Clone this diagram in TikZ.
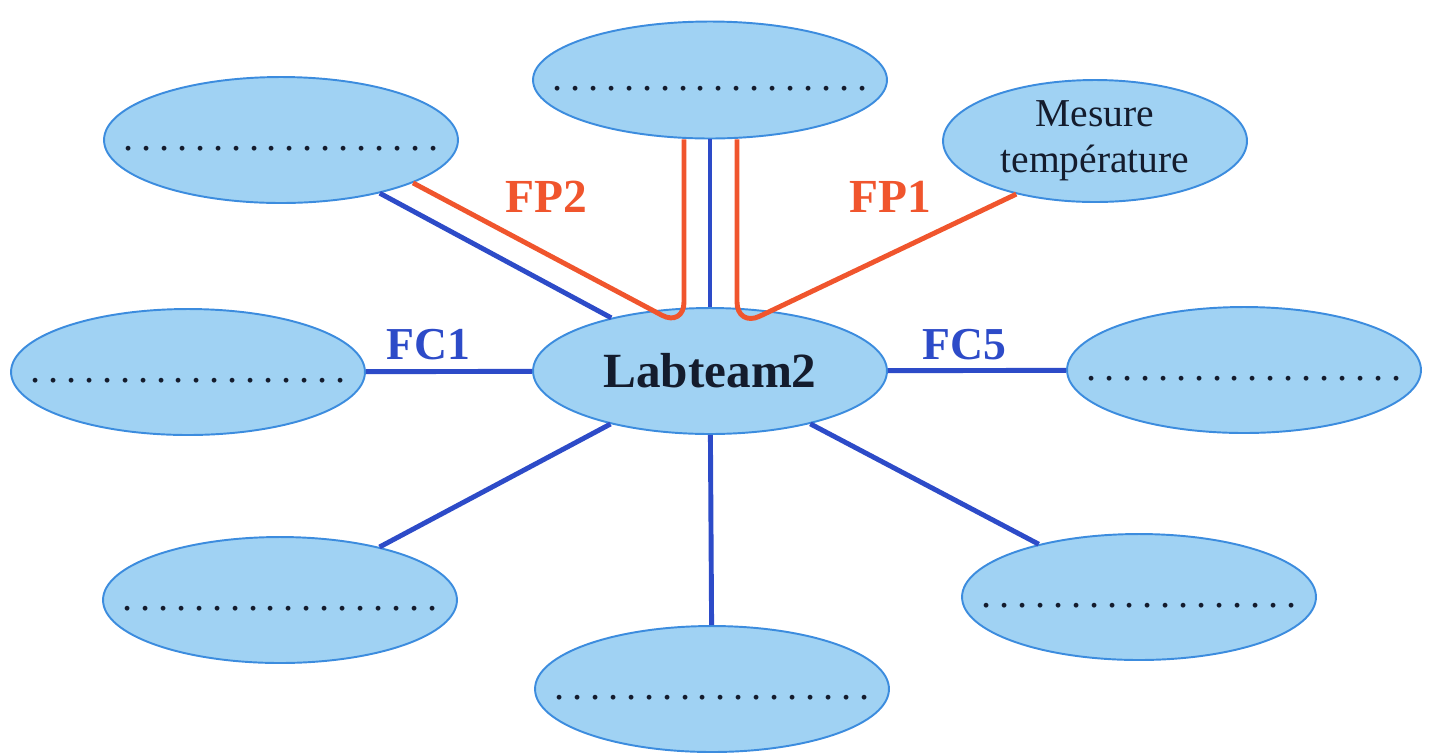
\documentclass[tikz,border=0pt]{standalone}
\usepackage{fontspec}
\setmainfont{Liberation Serif}
\usepackage{tikz}
\usetikzlibrary{shapes.geometric}
\definecolor{bubblefill}{RGB}{160,210,243}
\definecolor{bubbleedge}{RGB}{60,140,222}
\definecolor{fcblue}{RGB}{45,75,200}
\definecolor{fpred}{RGB}{240,85,45}
\definecolor{inkdark}{RGB}{20,28,45}
\newcommand{\blanks}{\makebox[0pt]{\raisebox{-0.2cm}[0pt][0pt]{\fontsize{23}{27.6}\selectfont.\foreach \d in {2,...,18}{\kern4.45pt.}}}}
\tikzset{
bubble/.style={ellipse, draw=bubbleedge, fill=bubblefill, line width=1.1pt, minimum width=7.08cm, minimum height=2.52cm, inner sep=0pt, text=inkdark},
fc/.style={fcblue, line width=2.8pt},
fp/.style={fpred, line width=2.8pt, rounded corners=0.5cm},
fclabel/.style={text=fcblue, font=\fontsize{26}{30}\selectfont\bfseries},
fplabel/.style={text=fpred, font=\fontsize{27}{30}\selectfont\bfseries}
}

\begin{document}
\begin{tikzpicture}[x=0.02cm, y=-0.02cm]
\useasboundingbox (0,0) rectangle (1432,752);
\node[bubble] (hub) at (710,371) {\fontsize{28}{30}\selectfont\bfseries Labteam2};
\node[bubble, minimum height=2.34cm] (top) at (710,80) {\blanks};
\foreach \n/\x/\y in {tl/281/140, left/188/372, right/1244/370, bl/280/600, br/1139/597, bot/712/689}
  \node[bubble] (\n) at (\x,\y) {\blanks};
\node[bubble, minimum width=6.08cm, minimum height=2.44cm, align=center, font=\fontsize{22.5}{26}\selectfont] (mes) at (1095,141) {Mesure\\temp\'erature};
\foreach \n in {tl,left,right,bl,br,bot,top} \draw[fc] (hub) -- (\n);
\coordinate (u1) at (684,327);
\coordinate (u2) at (737,327);
\draw[fp] (tl.-18) -- (u1) -- (top.south -| u1);
\draw[fp] (top.south -| u2) -- (u2) -- (mes.214);
\node[fplabel] (fp2) at (546,197) {FP2};
\node[fplabel] (fp1) at (890,197) {FP1};
\node[fclabel] (fc1) at (428,345) {FC1};
\node[fclabel] (fc5) at (964,345) {FC5};
\end{tikzpicture}
\end{document}
